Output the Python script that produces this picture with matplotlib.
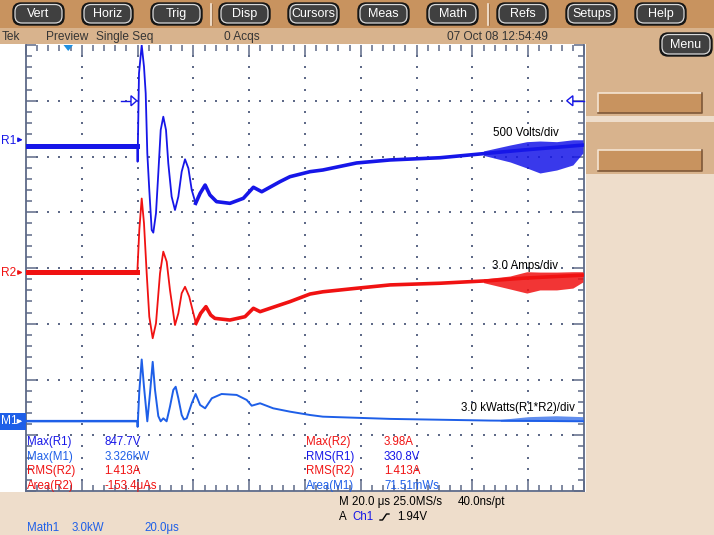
import matplotlib
matplotlib.use('Agg')
import matplotlib.pyplot as plt
import numpy as np
from matplotlib.patches import Rectangle, FancyBboxPatch, Polygon

plt.rcParams['font.family'] = ['Liberation Sans', 'DejaVu Sans']

W, H = 714, 535

# screen layout (pixels)
GRID_L, GRID_R, GRID_T, GRID_B = 26, 584, 45, 491

# scope settings
T_DIV = 20.0                     # us/div
T_START = -40.0                  # trigger 2 div from left
R1_SCALE, R1_POS = 500.0, 2.3    # V/div, position in div
R2_SCALE, R2_POS = 3.0, -0.08    # A/div
M1_SCALE, M1_POS = 3.0, -2.75    # kW/div
TRIG_LEVEL_DIV = 3.0

# R1 : voltage (V) vs time (us)
r1_t = [-40, -0.1, 0.0, 0.5, 1.47, 2.29, 2.9, 3.48, 4.19, 5.05, 5.63, 6.59, 7.42, 8.28,
        9.21, 10.18, 11.0, 12.2, 13.4, 14.6, 15.8, 17.0, 18.2, 19.4, 20.8, 22.4, 24.2,
        25.9, 28.3, 33.1, 37.9, 41.5, 44.5, 51.0, 54.6, 61.8, 66.4, 78.5, 90.5, 108.4,
        126.3, 138.1, 160]
r1_v = [-55, -55, -197, 596, 847.7, 656, 417, -121, -450, -809, -833, -659, -301, 88,
        207, 88, -211, -510, -630, -510, -286, -175, -256, -450, -570, -480, -406,
        -495, -555, -570, -525, -426, -466, -376, -331, -286, -271, -208, -181, -161,
        -119, -92, -47]
r1_noise_t = [124, 133.5, 139.5, 144.2, 150.2, 156.0, 159.6]
r1_noise_hi = [-100, -47, -17, -11, -17, 0, 0]
r1_noise_lo = [-140, -199, -253, -298, -271, -226, -119]

# R2 : current (A)
r2_t = [-40, -0.1, 0.61, 1.47, 2.29, 3.26, 4.19, 5.41, 6.59, 8.03, 9.21, 10.43, 11.6,
        13.4, 14.6, 15.8, 17.0, 18.5, 20.9, 22.6, 24.5, 26.2, 27.7, 33.1, 38.5, 41.5,
        43.9, 51.0, 54.6, 61.8, 66.4, 78.5, 90.5, 108.4, 126.3, 138.1, 160]
r2_a = [0, 0, 2.28, 3.98, 2.65, -0.05, -2.38, -3.54, -2.74, -0.05, 1.12, 0.58, -0.94,
        -2.83, -2.20, -1.12, -0.77, -1.30, -2.74, -2.20, -1.84, -2.29, -2.47, -2.56,
        -2.38, -1.93, -2.11, -1.75, -1.57, -1.16, -1.04, -0.85, -0.67, -0.58, -0.44,
        -0.31, -0.14]
r2_noise_t = [124, 133.5, 139.5, 144.2, 150.2, 156.0, 159.6]
r2_noise_hi = [-0.35, -0.19, 0.04, 0.02, 0.02, 0.04, 0.04]
r2_noise_lo = [-0.55, -0.89, -1.11, -0.94, -0.94, -0.84, -0.51]

# M1 = R1*R2 : power (kW)
m1_t = [-40, -0.1, 0.0, 0.61, 1.47, 2.29, 3.48, 4.44, 5.41, 6.24, 7.42, 8.28, 9.21,
        10.4, 11.6, 12.8, 13.65, 14.6, 15.8, 16.6, 17.6, 19.4, 20.8, 22.4, 24.2, 26.6,
        30.1, 35.5, 39.1, 40.9, 43.9, 48.6, 54.6, 61.8, 66.4, 90.5, 126.3, 160]
m1_kw = [0, 0, -0.3, 1.6, 3.326, 1.86, 0.0, 1.51, 3.2, 1.69, 0.28, 0.0, 0.16, 0.0,
         0.79, 1.69, 1.86, 1.24, 0.34, 0.1, 0.16, 0.97, 1.47, 0.88, 0.70, 1.24, 1.47,
         1.42, 1.15, 0.84, 0.97, 0.70, 0.52, 0.34, 0.25, 0.13, 0.04, 0.0]
m1_noise_t = [130, 140, 150, 159.6]
m1_noise_hi = [0.1, 0.25, 0.3, 0.25]

# texts
menu_labels = ['Vert', 'Horiz', 'Trig', 'Disp', 'Cursors', 'Meas', 'Math', 'Refs', 'Setups', 'Help']
menu_x0 = [13, 82, 151, 219, 288, 358, 427, 497, 566, 635]
meas_left = [('Max(R1)', '847.7V', 'r1'), ('Max(M1)', '3.326kW', 'm1'),
             ('RMS(R2)', '1.413A', 'r2'), ('Area(R2)', '-153.4μAs', 'r2')]
meas_right = [('Max(R2)', '3.98A', 'r2'), ('RMS(R1)', '330.8V', 'r1'),
              ('RMS(R2)', '1.413A', 'r2'), ('Area(M1)', '71.51mWs', 'm1')]
scale_labels = [('500 Volts/div', 559, 133), ('3.0 Amps/div', 558, 266),
                ('3.0 kWatts(R1*R2)/div', 575, 408)]

COL = {'r1': '#1616E8', 'r2': '#F01212', 'm1': '#1E5FE8'}
GRID_COL = '#5E6A88'
MENU_BG = '#C8935F'
STATUS_BG = '#D8B38D'
PANEL_BG = '#EEDDCB'

fig = plt.figure(figsize=(W / 100, H / 100), dpi=100)
fig.patch.set_facecolor('white')

# ---------- background chrome ----------
bg = fig.add_axes([0, 0, 1, 1], zorder=0)
bg.set_xlim(0, W); bg.set_ylim(H, 0); bg.axis('off')
bg.add_patch(Rectangle((0, 0), W, 28, fc=MENU_BG, ec='none'))
bg.add_patch(Rectangle((0, 28), W, 16, fc=STATUS_BG, ec='none'))
bg.add_patch(Rectangle((586, 44), W - 586, H - 44, fc=PANEL_BG, ec='none'))
bg.add_patch(Rectangle((0, 492), 586, H - 492, fc=PANEL_BG, ec='none'))
bg.add_patch(Rectangle((586, 44), W - 586, 72, fc=STATUS_BG, ec='none'))
bg.add_patch(Rectangle((586, 122), W - 586, 52, fc=STATUS_BG, ec='none'))


def dark_button(ax, x0, y0, w, h, label):
    ax.add_patch(FancyBboxPatch((x0, y0), w, h, boxstyle='round,pad=0,rounding_size=8',
                                fc='#151515', ec='#151515', lw=1))
    ax.add_patch(FancyBboxPatch((x0 + 2, y0 + 1.5), w - 4, h - 3.5,
                                boxstyle='round,pad=0,rounding_size=7',
                                fc='#404040', ec='#DADADA', lw=0.9))
    ax.text(x0 + w / 2, y0 + h / 2, label, color='white', ha='center', va='center',
            fontsize=9)


for lab, x0 in zip(menu_labels, menu_x0):
    dark_button(bg, x0, 3, 51, 22, lab)
for xs in (210.7, 488):
    bg.plot([xs, xs], [4, 25], color='#F5E6D6', lw=1.2)
    bg.plot([xs + 1, xs + 1], [4, 25], color='#9A6E48', lw=0.6)
dark_button(bg, 660, 33, 52, 23, 'Menu')

for y0, h in ((93, 20), (150, 21)):
    bg.add_patch(Rectangle((598, y0), 104, h, fc=MENU_BG, ec='none'))
    bg.plot([598, 598, 702], [y0 + h, y0, y0], color='#F4E4D2', lw=1.2)
    bg.plot([598, 702, 702], [y0 + h, y0 + h, y0], color='#7E5838', lw=1.2)

# ---------- graticule ----------
ax = fig.add_axes([GRID_L / W, 1 - GRID_B / H, (GRID_R - GRID_L) / W, (GRID_B - GRID_T) / H],
                  zorder=1)
ax.set_facecolor('none')
ax.set_xlim(T_START, T_START + 10 * T_DIV)
ax.set_ylim(-4, 4)
for s in ('left', 'right', 'bottom'):
    ax.spines[s].set_color(GRID_COL)
    ax.spines[s].set_linewidth(1.3)
ax.spines['top'].set_visible(False)
ax.set_xticks(np.arange(-40, 161, 20))
ax.set_xticks(np.arange(-40, 161, 4), minor=True)
ax.set_yticks(np.arange(-4, 5, 1))
ax.set_yticks(np.arange(-4, 4.01, 0.2), minor=True)
ax.tick_params(which='both', direction='in', top=True, right=True, bottom=True, left=True,
               labelleft=False, labelbottom=False, color=GRID_COL, width=1.1)
ax.tick_params(which='major', length=7)
ax.tick_params(which='minor', length=4)

maj_x = np.arange(-20, 160, 20)
min_y = np.arange(-3.8, 3.81, 0.2)
gx, gy = np.meshgrid(maj_x, min_y)
ax.scatter(gx.ravel(), gy.ravel(), s=2.2, marker='s', color=GRID_COL, lw=0)
min_x = np.arange(-36, 157, 4)
maj_y = np.arange(-3, 4, 1)
gx, gy = np.meshgrid(min_x, maj_y)
ax.scatter(gx.ravel(), gy.ravel(), s=2.2, marker='s', color=GRID_COL, lw=0)

# ---------- traces ----------
def to_div(vals, scale, pos):
    return pos + np.asarray(vals, dtype=float) / scale


y1 = to_div(r1_v, R1_SCALE, R1_POS)
y2 = to_div(r2_a, R2_SCALE, R2_POS)
y3 = to_div(m1_kw, M1_SCALE, M1_POS)

for t, y, c in ((r1_t, y1, COL['r1']), (r2_t, y2, COL['r2'])):
    ax.plot(t, y, color=c, lw=1.3, zorder=3)
    ax.plot(t[:2], y[:2], color=c, lw=3.6, zorder=3)
    k = next(i for i, v in enumerate(t) if v >= 20)
    ax.plot(t[k:], y[k:], color=c, lw=2.6, zorder=3)
ax.plot(m1_t, y3, color=COL['m1'], lw=1.4, zorder=3)
ax.plot(m1_t[:2], y3[:2], color=COL['m1'], lw=1.6, zorder=3)

ax.fill_between(r1_noise_t, to_div(r1_noise_lo, R1_SCALE, R1_POS),
                to_div(r1_noise_hi, R1_SCALE, R1_POS), color=COL['r1'], alpha=0.85, lw=0, zorder=3)
ax.fill_between(r2_noise_t, to_div(r2_noise_lo, R2_SCALE, R2_POS),
                to_div(r2_noise_hi, R2_SCALE, R2_POS), color=COL['r2'], alpha=0.85, lw=0, zorder=3)
ax.fill_between(m1_noise_t, to_div([0] * len(m1_noise_t), M1_SCALE, M1_POS),
                to_div(m1_noise_hi, M1_SCALE, M1_POS), color=COL['m1'], alpha=0.7, lw=0, zorder=3)

# trigger level markers
ax.plot([-5.95, -2.37], [TRIG_LEVEL_DIV] * 2, color=COL['r1'], lw=1, zorder=4)
ax.add_patch(Polygon([(-2.37, TRIG_LEVEL_DIV + 0.09), (-2.37, TRIG_LEVEL_DIV - 0.09),
                      (-0.3, TRIG_LEVEL_DIV)], closed=True, fc='white', ec=COL['r1'], lw=1, zorder=4))
ax.plot([156.0, 160], [TRIG_LEVEL_DIV] * 2, color=COL['r1'], lw=1, zorder=4, clip_on=False)
ax.add_patch(Polygon([(156.0, TRIG_LEVEL_DIV + 0.09), (156.0, TRIG_LEVEL_DIV - 0.09),
                      (153.8, TRIG_LEVEL_DIV)], closed=True, fc='white', ec=COL['r1'], lw=1, zorder=4))

# ---------- overlay text ----------
ov = fig.add_axes([0, 0, 1, 1], zorder=3)
ov.set_xlim(0, W); ov.set_ylim(H, 0); ov.axis('off'); ov.set_facecolor('none')

for s, x, y in scale_labels:
    ov.text(x, y, s, fontsize=8.3, color='black', ha='right', va='center')

status_col = '#353535'
for x, s in ((2, 'Tek'), (45.7, 'Preview'), (95.7, 'Single Seq'), (224.3, '0 Acqs'),
             (447.3, '07 Oct 08 12:54:49')):
    ov.text(x, 37, s, fontsize=8.6, color=status_col, ha='left', va='center')

# trigger position marker on top edge
ov.add_patch(Polygon([(63.5, 45), (73, 45), (68.2, 51)], closed=True, fc='#2090E0', ec='none'))

# channel markers on the left
def y_px(div):
    return (GRID_T + GRID_B) / 2 - div * (GRID_B - GRID_T) / 8


for name, pos, c in (('R1', R1_POS, COL['r1']), ('R2', R2_POS, COL['r2'])):
    yp = y_px(pos)
    ov.text(1.5, yp + 1, name, fontsize=8.6, color=c, ha='left', va='center')
    ov.annotate('', xy=(25.5, yp), xytext=(16, yp),
                arrowprops=dict(arrowstyle='-|>', color=c, lw=1, mutation_scale=6))
yp = y_px(M1_POS)
ov.add_patch(Rectangle((0, yp - 8.5), 26, 17, fc=COL['m1'], ec='none'))
ov.text(1.5, yp, 'M1', fontsize=8.6, color='white', ha='left', va='center')
ov.annotate('', xy=(25, yp), xytext=(16.5, yp),
            arrowprops=dict(arrowstyle='-|>', color='white', lw=1, mutation_scale=6))

# measurements
for i, (lab, val, ch) in enumerate(meas_left):
    yy = 442 + i * 14.6
    ov.text(26.7, yy, lab, fontsize=8.3, color=COL[ch], ha='left', va='center')
    ov.text(104.5, yy, val, fontsize=8.3, color=COL[ch], ha='left', va='center')
for i, (lab, val, ch) in enumerate(meas_right):
    yy = 442 + i * 14.6
    ov.text(306, yy, lab, fontsize=8.3, color=COL[ch], ha='left', va='center')
    ov.text(384, yy, val, fontsize=8.3, color=COL[ch], ha='left', va='center')

ov.text(339, 502, 'M 20.0 μs 25.0MS/s', fontsize=8.3, color='black', ha='left', va='center')
ov.text(458, 502, '40.0ns/pt', fontsize=8.3, color='black', ha='left', va='center')
ov.text(339, 517, 'A', fontsize=8.3, color='black', ha='left', va='center')
ov.text(352.7, 517, 'Ch1', fontsize=8.3, color=COL['r1'], ha='left', va='center')
ov.plot([380, 382.5, 386.5, 389], [520, 520, 514, 514], color='black', lw=1)
ov.text(397.3, 517, '1.94V', fontsize=8.3, color='black', ha='left', va='center')

ov.text(26.7, 528, 'Math1', fontsize=8.3, color=COL['m1'], ha='left', va='center')
ov.text(71.7, 528, '3.0kW', fontsize=8.3, color=COL['m1'], ha='left', va='center')
ov.text(144, 528, '20.0μs', fontsize=8.3, color=COL['m1'], ha='left', va='center')

fig.savefig('out.png', dpi=100)
